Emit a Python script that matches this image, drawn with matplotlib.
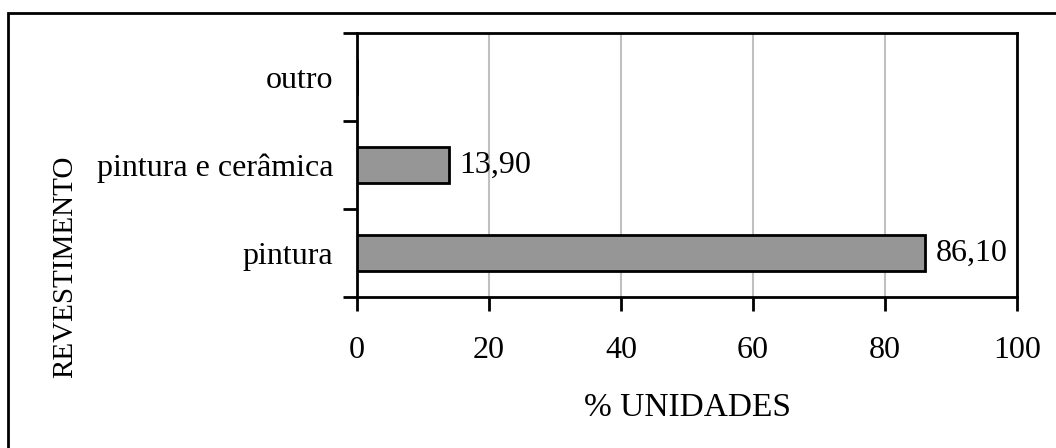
import matplotlib.pyplot as plt
from matplotlib.patches import Rectangle

plt.rcParams['font.family'] = ['Liberation Serif', 'DejaVu Serif']

categories = ['pintura', 'pintura e cerâmica', 'outro']
values = [86.10, 13.90, 0.0]
value_labels = ['86,10', '13,90', '']
x_ticks = [0, 20, 40, 60, 80, 100]

fig = plt.figure(figsize=(10.56, 4.48), dpi=100)
ax = fig.add_axes([357 / 1056, 1 - 297 / 448, 660 / 1056, 264 / 448])

pos = list(range(len(categories)))
ax.barh(pos, values, height=0.41, color='#969696', edgecolor='black',
        linewidth=2, zorder=3)

for p, v, lab in zip(pos, values, value_labels):
    if lab:
        ax.text(v + 1.6, p, lab, va='center', ha='left', fontsize=23)

ax.set_xlim(0, 100)
ax.set_ylim(-0.5, 2.5)
ax.set_xticks(x_ticks)
ax.set_xticklabels([str(t) for t in x_ticks], fontsize=23)
ax.set_yticks(pos)
ax.set_yticklabels(categories, fontsize=23)
ax.set_yticks([-0.5, 0.5, 1.5, 2.5], minor=True)
ax.tick_params(axis='y', which='major', length=0, pad=17)
ax.tick_params(axis='y', which='minor', length=10, width=2, direction='out')
ax.tick_params(axis='x', which='major', length=10, width=2, direction='out', pad=18)

ax.grid(axis='x', color='#c0c0c0', linewidth=1.5, zorder=0)
ax.set_axisbelow(True)
for s in ax.spines.values():
    s.set_linewidth(2)
    s.set_color('black')

ax.set_xlabel('% UNIDADES', fontsize=24, labelpad=20)
fig.text(65 / 1056, 1 - 267 / 448, 'REVESTIMENTO', rotation=90,
         ha='center', va='center', fontsize=21)

# outer frame (cut off at right and bottom)
fig.patches.append(Rectangle((8 / 1056, -0.1), 1.2, 1.1 - 13 / 448,
                             transform=fig.transFigure, fill=False,
                             edgecolor='black', linewidth=2))

fig.savefig('out.png', dpi=100)
